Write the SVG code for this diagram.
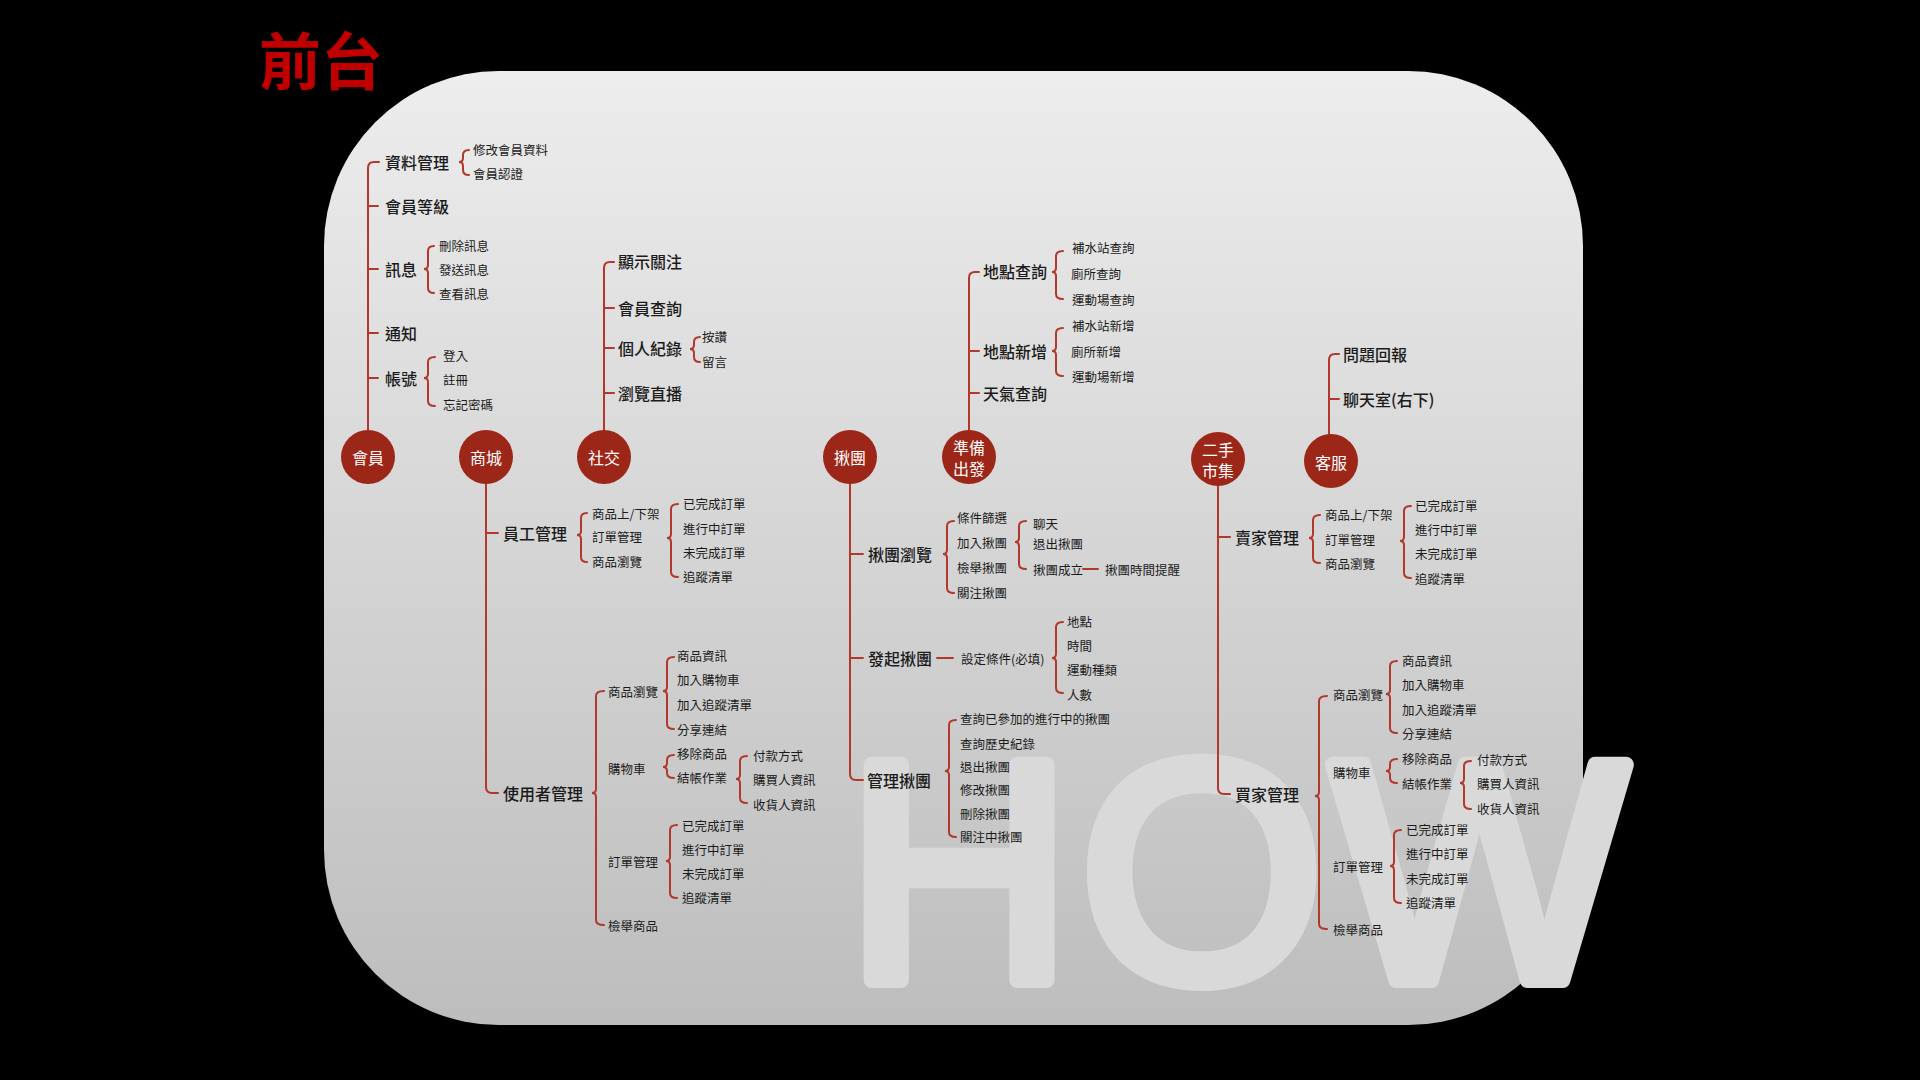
<svg xmlns="http://www.w3.org/2000/svg" width="1920" height="1080" viewBox="0 0 1920 1080">
<defs>
<linearGradient id="bg" x1="0" y1="0" x2="0" y2="1">
<stop offset="0" stop-color="#ededed"/>
<stop offset="1" stop-color="#bdbdbd"/>
</linearGradient>
<style>
.ln{fill:none;stroke:#b3372b;stroke-width:2;stroke-linecap:round}
text{font-family:"Noto Sans CJK TC","Noto Sans",sans-serif;dominant-baseline:central;fill:#1b1b1b}
.t1{font-size:16px;font-weight:500}
.t2{font-size:12.5px}
.root circle{fill:#9c2617}
.root text{fill:#ffffff;font-size:16px;text-anchor:middle}
</style>
</defs>
<rect width="1920" height="1080" fill="#000"/>
<rect x="324" y="71" width="1259" height="954" rx="175" ry="175" fill="url(#bg)"/>
<text x="846" y="980" style="font-family:'Liberation Sans',Arial,sans-serif;font-size:313px;letter-spacing:8px;dominant-baseline:auto;fill:#d9d9d9;stroke:#d9d9d9;stroke-width:16;stroke-linejoin:round">HOW</text>
<text x="259" y="58" style="font-size:62px;font-weight:700;fill:#c00000">前台</text>

<g id="connectors">
<path class="ln" d="M379,162 H374 Q368,162 368,168 V431 M368,206 H378 M368,269 H378 M368,333 H378 M368,378 H378"/>
<path class="ln" d="M486,484 V787 Q486,793 492,793 H498 M486,533 H498"/>
<path class="ln" d="M614,262 H610 Q604,262 604,268 V431 M604,308 H614 M604,348 H614 M604,393 H614"/>
<path class="ln" d="M979,272 H975 Q969,272 969,278 V431 M969,351 H979 M969,393 H979"/>
<path class="ln" d="M1339,354 H1335 Q1329,354 1329,360 V434 M1329,399 H1339"/>
<path class="ln" d="M850,484 V774 Q850,780 856,780 H863 M850,554 H863 M850,658 H863"/>
<path class="ln" d="M1218,486 V788 Q1218,794 1224,794 H1230 M1218,537 H1230"/>
<path class="ln" d="M1083,569 H1098 M937,658 H953"/>
<path class="ln" d="M469,150 Q463,150 463,155 V158 Q463,162 459,162 Q463,162 463,166 V170 Q463,175 469,175"/>
<path class="ln" d="M434,246 Q428,246 428,251 V265 Q428,269 424,269 Q428,269 428,273 V288 Q428,293 434,293"/>
<path class="ln" d="M435,357 Q428,357 428,362 V374 Q428,378 424,378 Q428,378 428,382 V401 Q428,406 435,406"/>
<path class="ln" d="M587,513 Q581,513 581,518 V531 Q581,535 577,535 Q581,535 581,539 V557 Q581,562 587,562"/>
<path class="ln" d="M678,504 Q671,504 671,509 V534 Q671,538 667,538 Q671,538 671,542 V572 Q671,577 678,577"/>
<path class="ln" d="M604,691 Q596,691 596,696 V789 Q596,793 592,793 Q596,793 596,797 V920 Q596,925 604,925"/>
<path class="ln" d="M674,657 Q667,657 667,662 V687 Q667,691 663,691 Q667,691 667,695 V724 Q667,729 674,729"/>
<path class="ln" d="M674,755 Q667,755 667,760 V763 Q667,767 663,767 Q667,767 667,771 V773 Q667,778 674,778"/>
<path class="ln" d="M747,756 Q740,756 740,761 V775 Q740,779 736,779 Q740,779 740,783 V798 Q740,803 747,803"/>
<path class="ln" d="M677,825 Q670,825 670,830 V857 Q670,861 666,861 Q670,861 670,865 V893 Q670,898 677,898"/>
<path class="ln" d="M700,337 Q694,337 694,342 V345 Q694,349 690,349 Q694,349 694,353 V357 Q694,362 700,362"/>
<path class="ln" d="M1063,251 Q1056,251 1056,256 V268 Q1056,272 1052,272 Q1056,272 1056,276 V294 Q1056,299 1063,299"/>
<path class="ln" d="M1063,328 Q1056,328 1056,333 V347 Q1056,351 1052,351 Q1056,351 1056,355 V371 Q1056,376 1063,376"/>
<path class="ln" d="M954,521 Q947,521 947,526 V550 Q947,554 943,554 Q947,554 947,558 V588 Q947,593 954,593"/>
<path class="ln" d="M1026,521 Q1019,521 1019,526 V538 Q1019,542 1015,542 Q1019,542 1019,546 V564 Q1019,569 1026,569"/>
<path class="ln" d="M1063,622 Q1056,622 1056,627 V654 Q1056,658 1052,658 Q1056,658 1056,662 V688 Q1056,693 1063,693"/>
<path class="ln" d="M956,720 Q949,720 949,725 V767 Q949,771 945,771 Q949,771 949,775 V832 Q949,837 956,837"/>
<path class="ln" d="M1320,515 Q1313,515 1313,520 V534 Q1313,538 1309,538 Q1313,538 1313,542 V558 Q1313,563 1320,563"/>
<path class="ln" d="M1411,506 Q1404,506 1404,511 V537 Q1404,541 1400,541 Q1404,541 1404,545 V573 Q1404,578 1411,578"/>
<path class="ln" d="M1327,696 Q1319,696 1319,701 V792 Q1319,796 1315,796 Q1319,796 1319,800 V924 Q1319,929 1327,929"/>
<path class="ln" d="M1397,661 Q1390,661 1390,666 V690 Q1390,694 1386,694 Q1390,694 1390,698 V728 Q1390,733 1397,733"/>
<path class="ln" d="M1397,759 Q1390,759 1390,764 V767 Q1390,771 1386,771 Q1390,771 1390,775 V778 Q1390,783 1397,783"/>
<path class="ln" d="M1471,761 Q1464,761 1464,766 V779 Q1464,783 1460,783 Q1464,783 1464,787 V804 Q1464,809 1471,809"/>
<path class="ln" d="M1401,830 Q1394,830 1394,835 V862 Q1394,866 1390,866 Q1394,866 1394,870 V898 Q1394,903 1401,903"/>
</g>

<g id="root-member" class="root"><circle cx="368" cy="457" r="27"/><text x="368" y="457">會員</text></g>
<g id="root-mall" class="root"><circle cx="486" cy="457" r="27"/><text x="486" y="457">商城</text></g>
<g id="root-social" class="root"><circle cx="604" cy="457" r="27"/><text x="604" y="457">社交</text></g>
<g id="root-group" class="root"><circle cx="850" cy="457" r="27"/><text x="850" y="457">揪團</text></g>
<g id="root-ready" class="root"><circle cx="969" cy="457" r="27"/><text x="969" y="447">準備</text><text x="969" y="468">出發</text></g>
<g id="root-second" class="root"><circle cx="1218" cy="459" r="27"/><text x="1218" y="449">二手</text><text x="1218" y="470">市集</text></g>
<g id="root-service" class="root"><circle cx="1331" cy="461" r="27"/><text x="1331" y="462">客服</text></g>

<g id="member-items">
<g id="m1"><text class="t1" x="385" y="162">資料管理</text></g>
<g id="m1a"><text class="t2" x="473" y="149">修改會員資料</text></g>
<g id="m1b"><text class="t2" x="473" y="173">會員認證</text></g>
<g id="m2"><text class="t1" x="385" y="206">會員等級</text></g>
<g id="m3"><text class="t1" x="385" y="269">訊息</text></g>
<g id="m3a"><text class="t2" x="439" y="245">刪除訊息</text></g>
<g id="m3b"><text class="t2" x="439" y="269">發送訊息</text></g>
<g id="m3c"><text class="t2" x="439" y="293">查看訊息</text></g>
<g id="m4"><text class="t1" x="385" y="333">通知</text></g>
<g id="m5"><text class="t1" x="385" y="378">帳號</text></g>
<g id="m5a"><text class="t2" x="443" y="355">登入</text></g>
<g id="m5b"><text class="t2" x="443" y="379">註冊</text></g>
<g id="m5c"><text class="t2" x="443" y="404">忘記密碼</text></g>
</g>

<g id="mall-items">
<g id="s1"><text class="t1" x="503" y="533">員工管理</text></g>
<g id="s1a"><text class="t2" x="592" y="513">商品上/下架</text></g>
<g id="s1b"><text class="t2" x="592" y="536">訂單管理</text></g>
<g id="s1c"><text class="t2" x="592" y="561">商品瀏覽</text></g>
<g id="s1b1"><text class="t2" x="683" y="503">已完成訂單</text></g>
<g id="s1b2"><text class="t2" x="683" y="528">進行中訂單</text></g>
<g id="s1b3"><text class="t2" x="683" y="552">未完成訂單</text></g>
<g id="s1b4"><text class="t2" x="683" y="576">追蹤清單</text></g>
<g id="s2"><text class="t1" x="503" y="793">使用者管理</text></g>
<g id="s2a"><text class="t2" x="608" y="691">商品瀏覽</text></g>
<g id="s2a1"><text class="t2" x="677" y="655">商品資訊</text></g>
<g id="s2a2"><text class="t2" x="677" y="679">加入購物車</text></g>
<g id="s2a3"><text class="t2" x="677" y="704">加入追蹤清單</text></g>
<g id="s2a4"><text class="t2" x="677" y="729">分享連結</text></g>
<g id="s2b"><text class="t2" x="608" y="768">購物車</text></g>
<g id="s2b1"><text class="t2" x="677" y="753">移除商品</text></g>
<g id="s2b2"><text class="t2" x="677" y="777">結帳作業</text></g>
<g id="s2b21"><text class="t2" x="753" y="755">付款方式</text></g>
<g id="s2b22"><text class="t2" x="753" y="779">購買人資訊</text></g>
<g id="s2b23"><text class="t2" x="753" y="804">收貨人資訊</text></g>
<g id="s2c"><text class="t2" x="608" y="861">訂單管理</text></g>
<g id="s2c1"><text class="t2" x="682" y="825">已完成訂單</text></g>
<g id="s2c2"><text class="t2" x="682" y="849">進行中訂單</text></g>
<g id="s2c3"><text class="t2" x="682" y="873">未完成訂單</text></g>
<g id="s2c4"><text class="t2" x="682" y="897">追蹤清單</text></g>
<g id="s2d"><text class="t2" x="608" y="925">檢舉商品</text></g>
</g>

<g id="social-items">
<g id="c1"><text class="t1" x="618" y="261">顯示關注</text></g>
<g id="c2"><text class="t1" x="618" y="308">會員查詢</text></g>
<g id="c3"><text class="t1" x="618" y="348">個人紀錄</text></g>
<g id="c3a"><text class="t2" x="702" y="336">按讚</text></g>
<g id="c3b"><text class="t2" x="702" y="361">留言</text></g>
<g id="c4"><text class="t1" x="618" y="393">瀏覽直播</text></g>
</g>

<g id="ready-items">
<g id="r1"><text class="t1" x="983" y="271">地點查詢</text></g>
<g id="r1a"><text class="t2" x="1072" y="247">補水站查詢</text></g>
<g id="r1b"><text class="t2" x="1071" y="273">廁所查詢</text></g>
<g id="r1c"><text class="t2" x="1072" y="299">運動場查詢</text></g>
<g id="r2"><text class="t1" x="983" y="351">地點新增</text></g>
<g id="r2a"><text class="t2" x="1072" y="325">補水站新增</text></g>
<g id="r2b"><text class="t2" x="1071" y="351">廁所新增</text></g>
<g id="r2c"><text class="t2" x="1072" y="376">運動場新增</text></g>
<g id="r3"><text class="t1" x="983" y="393">天氣查詢</text></g>
</g>

<g id="service-items">
<g id="k1"><text class="t1" x="1343" y="354">問題回報</text></g>
<g id="k2"><text class="t1" x="1343" y="399">聊天室(右下)</text></g>
</g>

<g id="group-items">
<g id="g1"><text class="t1" x="868" y="554">揪團瀏覽</text></g>
<g id="g1a"><text class="t2" x="957" y="517">條件篩選</text></g>
<g id="g1b"><text class="t2" x="957" y="542">加入揪團</text></g>
<g id="g1c"><text class="t2" x="957" y="567">檢舉揪團</text></g>
<g id="g1d"><text class="t2" x="957" y="592">關注揪團</text></g>
<g id="g1b1"><text class="t2" x="1033" y="523">聊天</text></g>
<g id="g1b2"><text class="t2" x="1033" y="543">退出揪團</text></g>
<g id="g1b3"><text class="t2" x="1033" y="569">揪團成立</text></g>
<g id="g1b31"><text class="t2" x="1105" y="569">揪團時間提醒</text></g>
<g id="g2"><text class="t1" x="868" y="658">發起揪團</text></g>
<g id="g2a"><text class="t2" x="961" y="658">設定條件(必填)</text></g>
<g id="g2a1"><text class="t2" x="1067" y="621">地點</text></g>
<g id="g2a2"><text class="t2" x="1067" y="645">時間</text></g>
<g id="g2a3"><text class="t2" x="1067" y="669">運動種類</text></g>
<g id="g2a4"><text class="t2" x="1067" y="694">人數</text></g>
<g id="g3"><text class="t1" x="867" y="780">管理揪團</text></g>
<g id="g3a"><text class="t2" x="960" y="718">查詢已參加的進行中的揪團</text></g>
<g id="g3b"><text class="t2" x="960" y="743">查詢歷史紀錄</text></g>
<g id="g3c"><text class="t2" x="960" y="766">退出揪團</text></g>
<g id="g3d"><text class="t2" x="960" y="789">修改揪團</text></g>
<g id="g3e"><text class="t2" x="960" y="813">刪除揪團</text></g>
<g id="g3f"><text class="t2" x="960" y="836">關注中揪團</text></g>
</g>

<g id="second-items">
<g id="e1"><text class="t1" x="1235" y="537">賣家管理</text></g>
<g id="e1a"><text class="t2" x="1325" y="514">商品上/下架</text></g>
<g id="e1b"><text class="t2" x="1325" y="539">訂單管理</text></g>
<g id="e1c"><text class="t2" x="1325" y="563">商品瀏覽</text></g>
<g id="e1b1"><text class="t2" x="1415" y="505">已完成訂單</text></g>
<g id="e1b2"><text class="t2" x="1415" y="529">進行中訂單</text></g>
<g id="e1b3"><text class="t2" x="1415" y="553">未完成訂單</text></g>
<g id="e1b4"><text class="t2" x="1415" y="578">追蹤清單</text></g>
<g id="e2"><text class="t1" x="1235" y="794">買家管理</text></g>
<g id="e2a"><text class="t2" x="1333" y="694">商品瀏覽</text></g>
<g id="e2a1"><text class="t2" x="1402" y="660">商品資訊</text></g>
<g id="e2a2"><text class="t2" x="1402" y="684">加入購物車</text></g>
<g id="e2a3"><text class="t2" x="1402" y="709">加入追蹤清單</text></g>
<g id="e2a4"><text class="t2" x="1402" y="733">分享連結</text></g>
<g id="e2b"><text class="t2" x="1333" y="772">購物車</text></g>
<g id="e2b1"><text class="t2" x="1402" y="758">移除商品</text></g>
<g id="e2b2"><text class="t2" x="1402" y="783">結帳作業</text></g>
<g id="e2b21"><text class="t2" x="1477" y="759">付款方式</text></g>
<g id="e2b22"><text class="t2" x="1477" y="783">購買人資訊</text></g>
<g id="e2b23"><text class="t2" x="1477" y="808">收貨人資訊</text></g>
<g id="e2c"><text class="t2" x="1333" y="866">訂單管理</text></g>
<g id="e2c1"><text class="t2" x="1406" y="829">已完成訂單</text></g>
<g id="e2c2"><text class="t2" x="1406" y="853">進行中訂單</text></g>
<g id="e2c3"><text class="t2" x="1406" y="878">未完成訂單</text></g>
<g id="e2c4"><text class="t2" x="1406" y="902">追蹤清單</text></g>
<g id="e2d"><text class="t2" x="1333" y="929">檢舉商品</text></g>
</g>
</svg>
